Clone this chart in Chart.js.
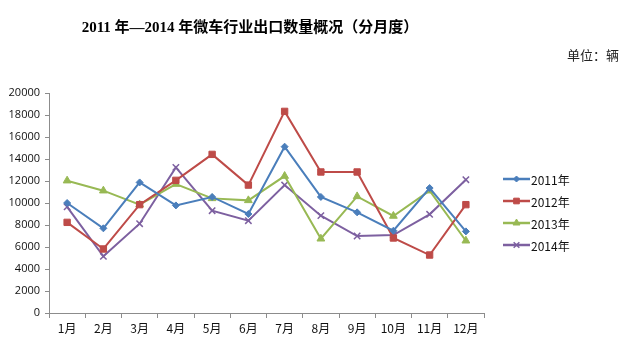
<!DOCTYPE html>
<html>
<head>
<meta charset="utf-8">
<script src="https://cdn.jsdelivr.net/npm/chart.js@4/dist/chart.umd.min.js"></script>
<style>
  html, body { margin: 0; padding: 0; background: #fff; }
  #wrap { width: 621px; height: 346px; position: relative; }
</style>
</head>
<body>
<div id="wrap"><canvas id="c" width="621" height="346"></canvas></div>
<script>
// Monthly micro-vehicle export volumes (units), 2011–2014
const months = ['1月','2月','3月','4月','5月','6月','7月','8月','9月','10月','11月','12月'];
const seriesNames = ['2011年','2012年','2013年','2014年'];
const y2011 = [10000, 7700, 11870, 9780, 10550, 9000, 15120, 10550, 9150, 7480, 11360, 7420];
const y2012 = [8240, 5820, 9850, 12060, 14420, 11630, 18330, 12820, 12820, 6820, 5270, 9850];
const y2013 = [12030, 11120, 9850, 11720, 10420, 10240, 12450, 6750, 10600, 8820, 11120, 6570];
const y2014 = [9650, 5150, 8120, 13240, 9300, 8390, 11630, 8850, 7000, 7090, 8970, 12120];
const yTicks = [0, 2000, 4000, 6000, 8000, 10000, 12000, 14000, 16000, 18000, 20000];

const titleText = '2011 年—2014 年微车行业出口数量概况（分月度）';
const unitText = '单位：辆';

const colors = ['#4A7EBB', '#BE4B48', '#98B954', '#7D60A0'];
const shapes = ['rectRot', 'rect', 'triangle', 'crossRot'];
const radii = [3.5, 4.5, 4.5, 4.5];
const values = [y2011, y2012, y2013, y2014];

const datasets = values.map((v, i) => ({
  label: seriesNames[i],
  data: v,
  borderColor: colors[i],
  backgroundColor: colors[i],
  borderWidth: 2,
  pointStyle: shapes[i],
  pointRadius: radii[i],
  pointBorderWidth: i === 3 ? 1.5 : 1,
  pointBackgroundColor: colors[i],
  pointBorderColor: colors[i],
  tension: 0
}));

// Header text and legend drawn on the canvas
const decor = {
  id: 'decor',
  afterDraw(chart) {
    const ctx = chart.ctx;
    ctx.save();
    ctx.fillStyle = '#000';
    ctx.textBaseline = 'middle';
    ctx.textAlign = 'center';
    ctx.font = 'bold 15px "Liberation Serif", "Noto Sans CJK SC", serif';
    ctx.fillText(titleText, 250, 28);
    ctx.textAlign = 'right';
    ctx.font = '13px "Liberation Serif", "Noto Sans CJK SC", serif';
    ctx.fillStyle = '#222';
    ctx.fillText(unitText, 619, 57);

    // legend: line with marker, then label
    const rows = [179, 201, 223, 245];
    chart.data.datasets.forEach((ds, i) => {
      const y = rows[i];
      ctx.strokeStyle = ds.borderColor;
      ctx.lineWidth = 2.5;
      ctx.beginPath();
      ctx.moveTo(503, y);
      ctx.lineTo(530, y);
      ctx.stroke();
      ctx.fillStyle = ds.borderColor;
      ctx.strokeStyle = ds.borderColor;
      ctx.lineWidth = ds.pointBorderWidth;
      Chart.helpers.drawPoint(ctx, {
        pointStyle: ds.pointStyle,
        radius: ds.pointRadius - 0.5,
        rotation: 0,
        borderWidth: ds.pointBorderWidth
      }, 516.5, y);
      ctx.fillStyle = '#111';
      ctx.textAlign = 'left';
      ctx.font = '12px "Noto Sans CJK SC", "Open Sans", sans-serif';
      ctx.fillText(ds.label, 531, y + 1);
    });
    ctx.restore();
  }
};

new Chart(document.getElementById('c'), {
  type: 'line',
  data: { labels: months, datasets },
  plugins: [decor],
  options: {
    responsive: false,
    animation: false,
    devicePixelRatio: 1,
    layout: { padding: { top: 93, right: 137, bottom: 0, left: 0 } },
    plugins: {
      legend: { display: false },
      title: { display: false },
      tooltip: { enabled: false }
    },
    scales: {
      x: {
        type: 'category',
        offset: true,
        grid: {
          offset: true,
          drawOnChartArea: false,
          drawTicks: true,
          tickLength: 5,
          color: '#8C8C8C'
        },
        border: { color: '#8C8C8C', width: 1 },
        ticks: {
          color: '#111',
          font: { family: '"Noto Sans CJK SC", "Open Sans", sans-serif', size: 12 },
          padding: 3,
          maxRotation: 0
        },
        afterFit(scale) { scale.height = 33; }
      },
      y: {
        min: 0,
        max: 20000,
        afterBuildTicks(scale) { scale.ticks = yTicks.map(v => ({ value: v })); },
        grid: {
          drawOnChartArea: false,
          drawTicks: true,
          tickLength: 4,
          color: '#8C8C8C'
        },
        border: { color: '#8C8C8C', width: 1 },
        ticks: {
          color: '#111',
          font: { family: '"Open Sans", "Liberation Sans", sans-serif', size: 11 },
          padding: 5,
          callback: (v) => String(v)
        },
        afterFit(scale) { scale.width = 49; }
      }
    }
  }
});
</script>
</body>
</html>
